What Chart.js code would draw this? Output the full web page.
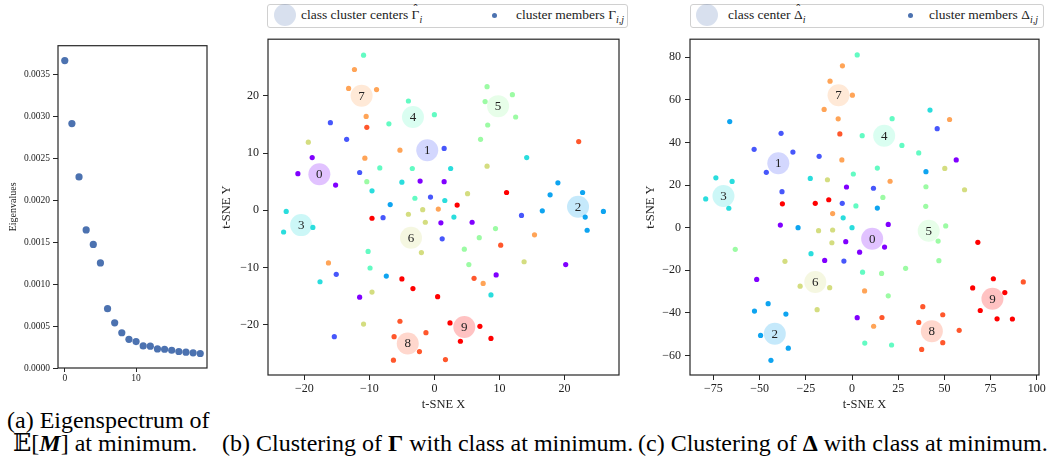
<!DOCTYPE html>
<html>
<head>
<meta charset="utf-8">
<script src="https://cdn.jsdelivr.net/npm/chart.js@4.4.1/dist/chart.umd.min.js"></script>
<style>
  body { margin: 0; background: #fff; width: 1053px; height: 462px; position: relative; overflow: hidden;
         font-family: "Liberation Serif", "DejaVu Serif", serif; color: #111; }
  .panel { position: absolute; }
  .legend { position: absolute; top: 4px; height: 22px; border: 1px solid #d0d0d0; border-radius: 3px;
            background: #fff; font-size: 13.5px; color: #222; }
  .legend .big { position: absolute; width: 22px; height: 22px; border-radius: 50%; top: -1px;
                 background: rgba(76, 114, 176, 0.22); }
  .legend .dot { position: absolute; width: 5px; height: 5px; border-radius: 50%; top: 8px; background: #4c72b0; }
  .legend .t { position: absolute; top: 2px; line-height: 16px; white-space: nowrap; }
  .legend sub { font-size: 10px; font-style: italic; }
  .hat { position: relative; display: inline-block; }
  .hat i { position: absolute; left: 0; right: 0; top: -6px; text-align: center; font-style: normal; font-size: 12px; }
  .cap { position: absolute; font-size: 24px; line-height: 23px; white-space: nowrap; color: #000; }
</style>
</head>
<body>

<div class="panel" style="left:0; top:37px;"><canvas id="eigenChart" width="212" height="351"></canvas></div>
<div class="panel" style="left:215px; top:28px;"><canvas id="gammaChart" width="415" height="384"></canvas></div>
<div class="panel" style="left:635px; top:28px;"><canvas id="deltaChart" width="415" height="384"></canvas></div>

<div class="legend" style="left:267px; width:359px;">
  <div class="big" style="left:6px;"></div>
  <span class="t" style="left:33px;">class cluster centers <span class="hat">Γ<i>ˆ</i></span><sub>i</sub></span>
  <div class="dot" style="left:224px;"></div>
  <span class="t" style="left:248px;">cluster members Γ<sub>i,j</sub></span>
</div>
<div class="legend" style="left:690px; width:352px;">
  <div class="big" style="left:5px;"></div>
  <span class="t" style="left:37px;">class center <span class="hat">Δ<i>ˆ</i></span><sub>i</sub></span>
  <div class="dot" style="left:217px;"></div>
  <span class="t" style="left:238px;">cluster members Δ<sub>i,j</sub></span>
</div>

<div class="cap" style="left:7px; top:409px;">(a) Eigenspectrum of</div>
<div class="cap" style="left:13px; top:432px;">𝔼[<b><i>M</i></b>] at minimum.</div>
<div class="cap" style="left:222px; top:432px;">(b) Clustering of <b>Γ</b> with class at minimum.</div>
<div class="cap" style="left:638px; top:432px;">(c) Clustering of <b>Δ</b> with class at minimum.</div>

<script>
// Eigenspectrum
const eigenvalues = [0.003669, 0.002918, 0.002281, 0.001648, 0.001475, 0.001254, 0.000708, 0.000539,
    0.000421, 0.000342, 0.000315, 0.000263, 0.000260, 0.000228, 0.000224, 0.000212, 0.000197,
    0.000189, 0.000181, 0.000173];
const eigenXTicks = [0, 10];
const eigenYTicks = [0, 0.0005, 0.001, 0.0015, 0.002, 0.0025, 0.003, 0.0035];

// t-SNE of Gamma: cluster members and class centers (index = class)
const gammaX = [-10.9, -12.3, -13.2, -8.9, -10.5, -10.4, -16.0, -13.5, -19.4, -18.8, -21.0, -15.2, -10.7, -11.5,
    -10.4, -8.4, -9.6, -4.0, 0.0, -7.0, -5.3, 1.5, -3.4, 2.5, -5.0, -2.2, 1.5, -3.0, -0.6, 1.6, -6.8, 5.1,
    8.1, 7.8, 12.0, 12.5, 8.2, 7.1, 8.1, 14.2, 11.1, 22.2, 17.8, 19.0, 22.8, -22.8, -23.2, -18.7, -9.6, -7.9,
    -4.0, -1.8, 0.6, 3.5, -1.4, 1.0, 3.0, 5.8, 1.2, -2.0, -10.2, 6.9, 9.4, 10.2, 4.6, 13.4, 16.6, 23.2, 23.5,
    26.0, 15.4, 13.8, 20.2, -16.3, -15.1, -17.6, -9.9, -7.4, -5.0, -3.3, 0.5, -9.6, -11.5, 5.3, 6.1, 7.5,
    9.5, 8.7, -10.9, -15.4, -5.3, -6.2, -6.3, -2.3, -1.3, 1.7, 2.4, 7.0, 4.0, 8.7];
const gammaY = [27.1, 24.6, 21.3, 21.1, 16.4, 14.5, 15.3, 12.4, 11.9, 9.2, 6.4, 4.4, 9.1, 6.6, 5.0, 7.4, 3.4,
    19.1, 16.7, 15.1, 10.5, 10.8, 7.3, 7.3, 4.9, 5.1, 5.0, 2.1, 2.3, 1.7, 1.0, 2.9, 21.6, 19.0, 20.2, 16.3,
    14.9, 12.4, 7.7, 9.2, 3.1, 12.0, 2.7, 4.8, 3.1, -0.2, -3.8, -3.0, -1.4, -1.3, -0.7, 0.1, 0.2, 0.9, -2.1,
    -2.2, -1.2, -2.1, -5.0, -7.4, -7.2, -4.8, -3.2, -6.1, -6.8, -0.9, -0.1, -1.2, -3.5, -0.2, -4.3, -9.0,
    -9.5, -9.2, -11.2, -12.5, -10.1, -11.5, -12.0, -13.7, -15.1, -14.3, -15.2, -9.5, -11.9, -12.8, -11.3,
    -14.8, -19.9, -22.1, -19.4, -22.1, -26.2, -24.7, -21.4, -26.1, -19.7, -20.3, -22.9, -22.4];
const gammaClass = [4, 7, 7, 7, 7, 8, 1, 1, 6, 0, 0, 0, 7, 1, 5, 4, 3, 4, 4, 4, 7, 1, 4, 3, 3, 0, 0, 4, 1, 3,
    2, 6, 5, 5, 5, 5, 5, 5, 6, 3, 9, 8, 2, 2, 2, 3, 3, 3, 9, 1, 6, 6, 7, 9, 6, 0, 3, 0, 1, 6, 4, 5, 5, 8, 5,
    1, 2, 2, 2, 2, 7, 6, 0, 7, 1, 3, 4, 2, 9, 9, 9, 6, 0, 5, 8, 7, 0, 3, 6, 1, 8, 8, 8, 8, 8, 8, 9, 9, 9, 9];
const gammaCenterX = [-17.7, -1.1, 22.1, -20.5, -3.3, 9.8, -3.6, -11.2, -4.1, 4.6];
const gammaCenterY = [6.3, 10.5, 0.6, -2.6, 16.3, 18.2, -4.8, 20.0, -23.3, -20.4];
const gammaXTicks = [-20, -10, 0, 10, 20];
const gammaYTicks = [-20, -10, 0, 10, 20];

// t-SNE of Delta: cluster members and class centers (index = class)
const deltaX = [2.8, -5.2, -11.9, 0.2, -15.1, -7.5, -6.6, -5.5, -66.2, -38.4, -53.0, -32.0, -46.4, -17.8, -37.9,
    -73.7, -64.9, -79.2, -22.6, -13.3, -3.0, 0.7, 13.7, 11.6, 16.7, 5.5, 21.7, 27.0, 36.1, 42.2, 46.1, 52.8,
    56.4, 50.2, 40.0, 20.6, 40.0, 60.9, -66.7, -37.7, -19.9, -12.6, -5.3, 2.1, 13.7, 39.9, 50.7, 46.6, 47.0,
    68.1, -38.8, -29.2, -18.1, -10.5, -10.5, -4.8, 0.0, -10.9, -3.4, 19.6, 17.6, 4.1, -22.2, -14.8, -4.4,
    -36.3, -63.2, 5.7, 16.0, 29.0, -51.6, -28.1, -12.1, 6.8, 19.6, -18.9, -45.4, -52.8, -35.8, -49.5, -34.5,
    -43.9, 2.8, 16.2, 11.7, 6.9, 21.4, 38.3, 36.1, 49.1, 58.0, 49.1, 37.7, 76.5, 65.3, 82.7, 69.4, 78.5,
    86.8, 92.7];
const deltaY = [81.1, 76.0, 68.8, 62.2, 55.5, 51.1, 44.0, 31.8, 49.8, 44.3, 36.8, 35.5, 26.0, 33.5, 16.9, 23.4,
    21.7, 13.5, 23.1, 22.5, 19.1, 25.2, 28.0, 18.5, 14.2, 43.2, 51.2, 38.6, 35.1, 55.2, 46.5, 50.8, 31.8,
    27.8, 26.3, 21.8, 19.2, 17.8, 9.1, 11.2, 11.4, 13.1, 11.4, 10.2, 9.2, 10.0, 0.8, -6.3, -15.5, -6.9, 1.2,
    0.0, -1.4, -1.1, 6.6, 4.6, 0.0, -7.1, -6.6, 1.5, -9.1, -11.5, -12.2, -15.4, -15.7, -15.8, -10.2, -20.9,
    -21.5, -19.1, -24.3, -27.5, -28.2, -29.7, -32.0, -38.5, -35.7, -39.2, -40.6, -50.6, -56.6, -62.3, -42.3,
    -42.2, -46.3, -54.2, -55.1, -37.1, -44.5, -40.9, -48.2, -54.0, -57.2, -24.0, -28.3, -30.5, -38.9, -42.8,
    -42.9, -25.5];
const deltaClass = [4, 7, 7, 7, 7, 7, 8, 7, 2, 1, 1, 1, 1, 1, 1, 3, 3, 3, 3, 6, 0, 4, 4, 1, 5, 4, 4, 4, 4, 3,
    1, 7, 0, 6, 2, 7, 5, 6, 3, 9, 9, 9, 1, 4, 2, 5, 5, 5, 5, 9, 0, 2, 6, 6, 7, 3, 3, 6, 0, 0, 0, 0, 3, 0, 1,
    6, 5, 4, 5, 5, 0, 6, 6, 7, 5, 6, 2, 2, 2, 2, 2, 2, 0, 8, 7, 4, 4, 8, 8, 8, 8, 8, 8, 9, 9, 9, 9, 9, 9, 8];
const deltaCenterX = [10.9, -39.9, -41.8, -69.6, 17.4, 41.5, -19.9, -7.3, 43.2, 76.0];
const deltaCenterY = [-5.2, 30.2, -49.8, 14.9, 43.2, -1.5, -25.5, 62.2, -48.6, -33.4];
const deltaXTicks = [-75, -50, -25, 0, 25, 50, 75, 100];
const deltaYTicks = [-60, -40, -20, 0, 20, 40, 60, 80];

const SERIF = '"Liberation Serif", "DejaVu Serif", serif';
const INK = '#262626';

// matplotlib "rainbow" colormap sampled for 10 classes
function rainbow(cls, alpha) {
    const t = cls / 9;
    const r = Math.min(1, Math.abs(2 * t - 0.5));
    const g = Math.sin(Math.PI * t);
    const b = Math.cos(Math.PI * t / 2);
    return `rgba(${Math.round(r * 255)}, ${Math.round(g * 255)}, ${Math.round(b * 255)}, ${alpha})`;
}

function fmtMinus(v) {
    return String(v).replace('-', '\u2212');
}

// full box around the plot area, like matplotlib spines
const framePlugin = {
    id: 'frame',
    afterDraw(chart) {
        const { ctx, chartArea: a } = chart;
        ctx.save();
        ctx.strokeStyle = INK;
        ctx.lineWidth = 1.2;
        ctx.strokeRect(a.left, a.top, a.right - a.left, a.bottom - a.top);
        ctx.restore();
    }
};

// digit labels on top of the class centers
const centerLabelPlugin = {
    id: 'centerLabels',
    afterDatasetsDraw(chart) {
        const meta = chart.getDatasetMeta(1);
        const { ctx } = chart;
        ctx.save();
        ctx.font = '13px ' + SERIF;
        ctx.fillStyle = '#222';
        ctx.textAlign = 'center';
        ctx.textBaseline = 'middle';
        meta.data.forEach((pt, i) => ctx.fillText(String(i), pt.x, pt.y + 0.5));
        ctx.restore();
    }
};

function axis(opts) {
    return {
        type: 'linear',
        position: opts.position,
        min: opts.min,
        max: opts.max,
        afterBuildTicks: (scale) => { scale.ticks = opts.ticks.map(v => ({ value: v })); },
        afterFit: (scale) => {
            if (opts.position === 'left') scale.width = opts.size;
            else scale.height = opts.size;
        },
        grid: { display: true, drawOnChartArea: false, drawTicks: true, tickLength: opts.tickLength, color: INK, tickColor: INK },
        border: { display: false },
        ticks: {
            autoSkip: false,
            maxRotation: 0,
            padding: opts.padding,
            color: '#222',
            font: { family: SERIF, size: opts.fontSize },
            callback: opts.format
        },
        title: opts.title ? {
            display: true,
            text: opts.title,
            color: '#222',
            font: { family: SERIF, size: opts.titleSize },
            padding: opts.titlePadding
        } : { display: false }
    };
}

const common = {
    responsive: false,
    animation: false,
    events: [],
    plugins: { legend: { display: false }, tooltip: { enabled: false } }
};

// (a) eigenspectrum
new Chart(document.getElementById('eigenChart'), {
    type: 'scatter',
    data: {
        datasets: [{
            data: eigenvalues.map((v, i) => ({ x: i, y: v })),
            backgroundColor: '#4c72b0',
            borderWidth: 0,
            pointRadius: 3.6
        }]
    },
    options: {
        ...common,
        layout: { padding: { top: 5, right: 5, left: 0, bottom: 0 } },
        scales: {
            x: axis({ position: 'bottom', min: -0.95, max: 19.95, ticks: eigenXTicks, size: 20, tickLength: 4,
                padding: 1, fontSize: 9.5, format: v => String(v) }),
            y: axis({ position: 'left', min: 0, max: 0.003847, ticks: eigenYTicks, size: 58, tickLength: 5,
                padding: 3, fontSize: 9.5, format: v => v.toFixed(4),
                title: 'Eigenvalues', titleSize: 10, titlePadding: { top: 7, bottom: 0 } })
        }
    },
    plugins: [framePlugin]
});

function tsneChart(id, xs, ys, cls, cx, cy, range, xTicks, yTicks, yTitlePad) {
    return new Chart(document.getElementById(id), {
        type: 'scatter',
        data: {
            datasets: [{
                data: xs.map((x, i) => ({ x: x, y: ys[i] })),
                backgroundColor: cls.map(c => rainbow(c, 1)),
                borderWidth: 0,
                pointRadius: 2.6
            }, {
                data: cx.map((x, i) => ({ x: x, y: cy[i] })),
                backgroundColor: cx.map((x, i) => rainbow(i, 0.24)),
                borderWidth: 0,
                pointRadius: 11
            }]
        },
        options: {
            ...common,
            layout: { padding: { top: 5, right: range.padRight, left: 0, bottom: 0 } },
            scales: {
                x: axis({ position: 'bottom', min: range.xMin, max: range.xMax, ticks: xTicks, size: 37,
                    tickLength: 5, padding: 2, fontSize: 12, format: fmtMinus,
                    title: 't-SNE X', titleSize: 12.5, titlePadding: { top: 0, bottom: 0 } }),
                y: axis({ position: 'left', min: range.yMin, max: range.yMax, ticks: yTicks, size: range.yWidth,
                    tickLength: 5, padding: 4, fontSize: 12, format: fmtMinus,
                    title: 't-SNE Y', titleSize: 12.5, titlePadding: { top: yTitlePad, bottom: 0 } })
            }
        },
        plugins: [framePlugin, centerLabelPlugin]
    });
}

// (b) Gamma clusters
tsneChart('gammaChart', gammaX, gammaY, gammaClass, gammaCenterX, gammaCenterY,
    { xMin: -25.6, xMax: 28.4, yMin: -28.8, yMax: 29.9, yWidth: 53, padRight: 2 },
    gammaXTicks, gammaYTicks, 4.5);

// (c) Delta clusters
tsneChart('deltaChart', deltaX, deltaY, deltaClass, deltaCenterX, deltaCenterY,
    { xMin: -87.7, xMax: 101.2, yMin: -69.2, yMax: 88.5, yWidth: 55, padRight: 6 },
    deltaXTicks, deltaYTicks, 8.5);
</script>
</body>
</html>
